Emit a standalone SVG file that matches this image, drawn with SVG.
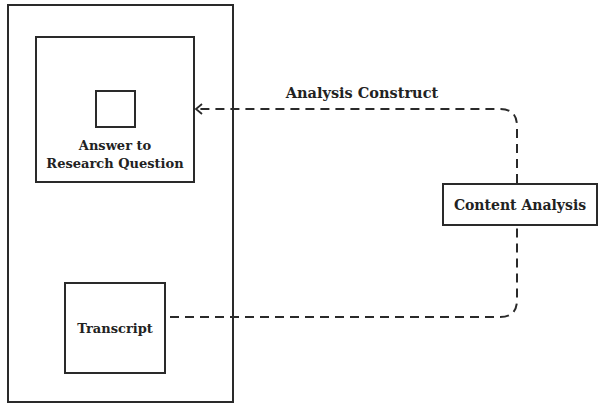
<svg xmlns="http://www.w3.org/2000/svg" width="600" height="407" viewBox="0 0 600 407">
<defs>
<style>
.box{fill:#fff;stroke:#2a2a2a;stroke-width:2}
.lbl{font-family:"DejaVu Serif","Liberation Serif",serif;font-weight:bold;font-size:13px;fill:#222;text-anchor:middle}
.conn{fill:none;stroke:#2a2a2a;stroke-width:2;stroke-dasharray:9 6}
</style>
<marker id="open" markerWidth="12" markerHeight="12" refX="7" refY="6" orient="auto" markerUnits="userSpaceOnUse">
<path d="M1,1 L7,6 L1,11" fill="none" stroke="#2a2a2a" stroke-width="1.8"/>
</marker>
</defs>
<rect width="600" height="407" fill="#fff"/>
<g id="container"><rect class="box" x="8" y="5" width="225" height="397"/></g>
<g id="answer">
<rect class="box" x="36" y="37" width="158" height="145"/>
<rect class="box" x="96" y="91" width="39" height="36"/>
<text class="lbl" x="115" y="150">Answer to</text>
<text class="lbl" x="115" y="168">Research Question</text>
</g>
<g id="transcript">
<rect class="box" x="65" y="283" width="100" height="90"/>
<text class="lbl" x="115" y="333">Transcript</text>
</g>
<g id="content-analysis">
<rect class="box" x="443" y="184" width="154" height="41"/>
<text class="lbl" x="520" y="210" style="font-size:14px">Content Analysis</text>
</g>
<g id="connectors">
<path class="conn" d="M170,317 L500,317 Q517,317 517,300 L517,226"/>
<path class="conn" d="M517,183 L517,126 Q517,109 500,109 L196,109" marker-end="url(#open)"/>
<text class="lbl" x="362" y="98" style="font-size:14.5px">Analysis Construct</text>
</g>
</svg>
